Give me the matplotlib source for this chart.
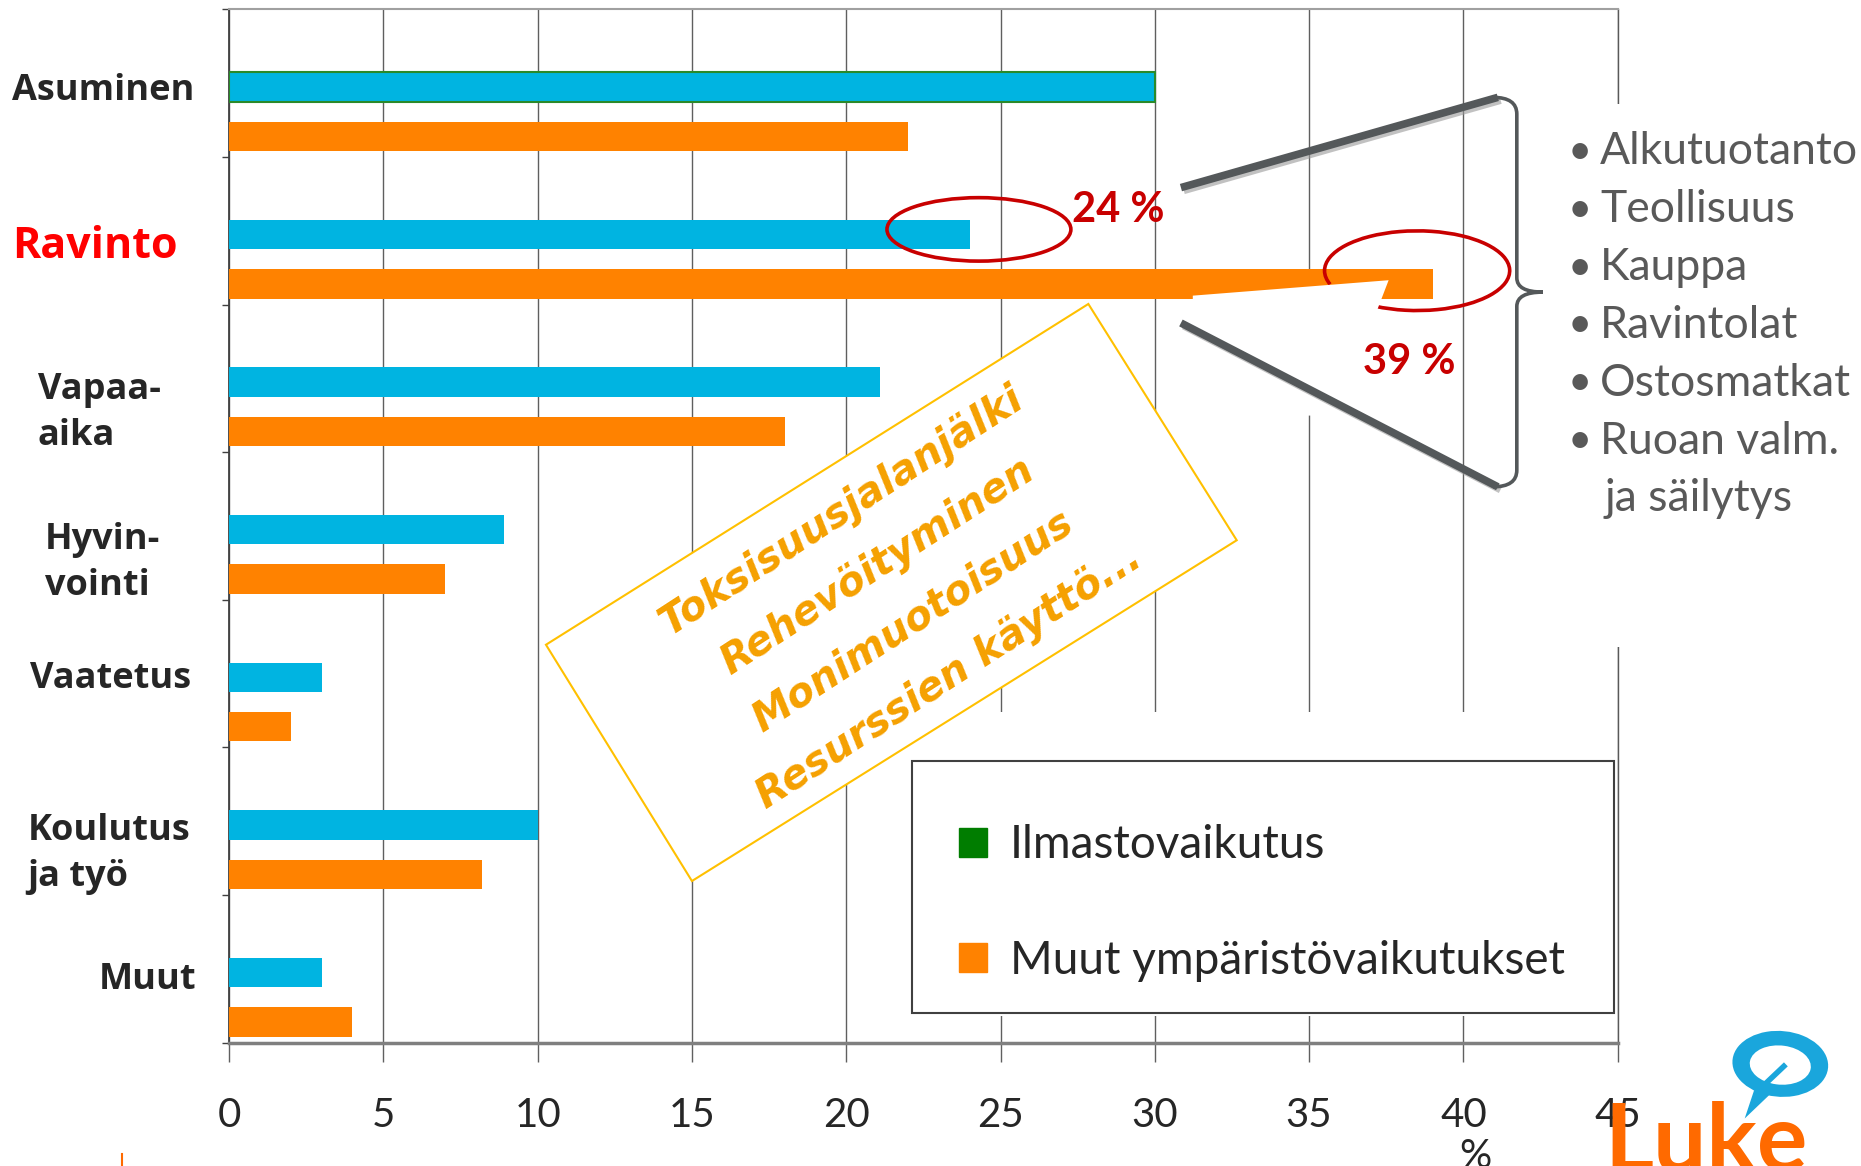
import numpy as np
import matplotlib.pyplot as plt
import matplotlib.patheffects as pe
from matplotlib.patches import Ellipse, Arc, Polygon, Rectangle, PathPatch, Patch
from matplotlib.path import Path
from matplotlib.lines import Line2D

# --- data -------------------------------------------------------------
categories = ['Asuminen', 'Ravinto', 'Vapaa-\naika', 'Hyvin-\nvointi',
              'Vaatetus', 'Koulutus\nja työ', 'Muut']
climate = [30.0, 24.0, 21.1, 8.9, 3.0, 10.0, 3.0]     # Ilmastovaikutus
other_env = [22.0, 39.0, 18.0, 7.0, 2.0, 8.2, 4.0]    # Muut ympäristövaikutukset
x_ticks = [0, 5, 10, 15, 20, 25, 30, 35, 40, 45]
series_labels = ['Ilmastovaikutus', 'Muut ympäristövaikutukset']
impact_words = ['Toksisuusjalanjälki', 'Rehevöityminen', 'Monimuotoisuus', 'Resurssien käyttö...']
food_chain = ['Alkutuotanto', 'Teollisuus', 'Kauppa', 'Ravintolat', 'Ostosmatkat', 'Ruoan valm.']
food_chain_tail = 'ja säilytys'

CYAN = '#00b4e1'
ORANGE = '#ff8200'
GREEN = '#007d00'
RED = '#c80000'
GREY = '#54585a'
TEXT = '#262626'
SLIM = ['Lato', 'DejaVu Sans']
BOLD = ['Open Sans', 'DejaVu Sans']

# layout helpers: positions measured on a 1568x982 preview of the slide
W, H = 1568, 982
def fx(x): return x / W
def fy(y): return 1 - y / H

fig = plt.figure(figsize=(18.61, 11.66), dpi=100)
ax = fig.add_axes([fx(193), fy(878), fx(1363) - fx(193), fy(8) - fy(878)])

rows = np.arange(len(categories))
cbars = ax.barh(rows + 0.525, climate, height=0.2, color=CYAN, zorder=3)
obars = ax.barh(rows + 0.86, other_env, height=0.2, color=ORANGE, zorder=3)
cbars[0].set_edgecolor('#2a8a2a')
cbars[0].set_linewidth(1.5)

ax.set_xlim(0, 45)
ax.set_ylim(len(categories), 0)
ax.set_xticks(x_ticks)
ax.set_yticks(np.arange(len(categories) + 1))
ax.set_yticklabels([])
ax.set_axisbelow(True)
ax.grid(axis='x', color='#5f5f5f', lw=1)
ax.tick_params(axis='x', direction='out', length=14, width=1, color='#606060',
               pad=25, labelsize=29, labelcolor=TEXT)
ax.tick_params(axis='y', direction='out', length=5, width=1, color='#404040')
for lab in ax.get_xticklabels():
    lab.set_fontfamily(SLIM)
ax.spines['left'].set_color('#404040')
ax.spines['left'].set_linewidth(1.3)
ax.spines['bottom'].set_color('#7f7f7f')
ax.spines['bottom'].set_linewidth(2.5)
ax.spines['top'].set_color('#a0a0a0')
ax.spines['top'].set_linewidth(1.5)
ax.spines['right'].set_color('#595959')
ax.spines['right'].set_linewidth(1)

fig.text(fx(1243), fy(958), '%', fontsize=29, color=TEXT, family=SLIM, ha='center', va='top')

# category labels
label_x = [10, 10, 32, 38, 25, 23, 83]
label_y = [77, 208, 348, 474, 572, 719, 825]
for name, lx, ly in zip(categories, label_x, label_y):
    red = name == 'Ravinto'
    fig.text(fx(lx), fy(ly), name, ha='left', va='center', multialignment='left',
             fontsize=31 if red else 26, fontweight='bold', family=BOLD,
             color='#ff0000' if red else TEXT, linespacing=1.38)

# highlight of the food row
ri = categories.index('Ravinto')
ax.add_patch(Ellipse((climate[ri] + 0.3, ri + 0.49), 5.96, 0.43, fill=False,
                     edgecolor=RED, lw=2.6, zorder=4))
def geo_angle(t, w, h):
    t = np.radians(t)
    return np.degrees(np.arctan2(h / w * np.sin(t), np.cos(t)))
aw, ah = 6.0, 0.54
ax.add_patch(Arc((other_env[ri] - 0.5, ri + 0.77), aw, ah,
                 theta1=geo_angle(160, aw, ah), theta2=geo_angle(117, aw, ah),
                 edgecolor=RED, lw=2.6, zorder=4))
# white callout tail cutting the orange bar
tail = [(1005, 249), (1170, 236), (1160, 262), (1125, 350), (1090, 350), (1005, 262)]
ax.add_patch(Polygon([(fx(x), fy(y)) for x, y in tail], closed=True, transform=fig.transFigure,
                     facecolor='white', edgecolor='none', zorder=5, clip_on=False))
fig.text(fx(942), fy(177), f'{climate[ri]:.0f} %', color=RED, fontsize=30, fontweight='bold',
         family=SLIM, ha='center', va='center')
fig.text(fx(1187), fy(305), f'{other_env[ri]:.0f} %', color=RED, fontsize=30, fontweight='bold',
         family=SLIM, ha='center', va='center')

# white areas behind legend and the bullet list
fig.add_artist(Rectangle((fx(768), fy(856)), fx(1361) - fx(768), fy(600) - fy(856),
                         transform=fig.transFigure, facecolor='white', edgecolor='none', zorder=1))
fig.add_artist(Rectangle((fx(1290), fy(545)), fx(1568) - fx(1290), fy(88) - fy(545),
                         transform=fig.transFigure, facecolor='white', edgecolor='none', zorder=1))

# rotated box of other impacts
box = [(460, 543), (917, 256), (1042, 455), (583, 742)]
fig.add_artist(Polygon([(fx(x), fy(y)) for x, y in box], closed=True, transform=fig.transFigure,
                       facecolor='white', edgecolor='#ffc000', lw=1.5, zorder=2))
fig.text(fx(754), fy(500), '\n'.join(impact_words), rotation=33, rotation_mode='anchor',
         ha='center', va='center', multialignment='center', color='#f5a000', fontsize=29,
         fontweight='bold', fontstyle='italic', family='DejaVu Sans', linespacing=1.8, zorder=3)

# callout lines and brace
shadow = [pe.SimpleLineShadow(offset=(2, -2), shadow_color='#999999', alpha=0.6), pe.Normal()]
for (x0, y0), (x1, y1) in [((995, 158), (1262, 82)), ((995, 272), (1262, 410))]:
    fig.add_artist(Line2D([fx(x0), fx(x1)], [fy(y0), fy(y1)], transform=fig.transFigure,
                          color=GREY, lw=5.5, solid_capstyle='butt', path_effects=shadow, zorder=4))
brace = [(1258, 82), (1278, 82), (1278, 96), (1278, 234), (1278, 246), (1300, 246),
         (1278, 246), (1278, 258), (1278, 396), (1278, 410), (1258, 410)]
codes = [Path.MOVETO, Path.CURVE3, Path.CURVE3, Path.LINETO, Path.CURVE3, Path.CURVE3,
         Path.CURVE3, Path.CURVE3, Path.LINETO, Path.CURVE3, Path.CURVE3]
fig.add_artist(PathPatch(Path([(fx(x), fy(y)) for x, y in brace], codes), transform=fig.transFigure,
                         fill=False, edgecolor=GREY, lw=2.6, zorder=4))

for i, item in enumerate(food_chain):
    y = 128 + 48.7 * i
    fig.text(fx(1331), fy(y), '•', color='#595959', fontsize=30, family=SLIM, ha='center', va='center', zorder=5)
    fig.text(fx(1348), fy(y), item, color='#595959', fontsize=32, family=SLIM, ha='left', va='center', zorder=5)
fig.text(fx(1352), fy(420), food_chain_tail, color='#595959', fontsize=32, family=SLIM,
         ha='left', va='center', zorder=5)

# legend (frame drawn separately so the entries can sit where the slide has them)
fig.add_artist(Rectangle((fx(768), fy(853)), fx(1360) - fx(768), fy(641) - fy(853),
                         transform=fig.transFigure, facecolor='white', edgecolor='#404040',
                         lw=1.5, zorder=2))
leg = fig.legend(handles=[Patch(color=GREEN), Patch(color=ORANGE)], labels=series_labels,
                 loc='upper left', bbox_to_anchor=(fx(768), fy(654)),
                 prop={'family': SLIM, 'size': 33}, handlelength=0.6, handleheight=0.6,
                 handletextpad=0.5, borderpad=1.04, labelspacing=1.6, borderaxespad=0,
                 frameon=False)
leg.set_zorder(6)
for t in leg.get_texts():
    t.set_color(TEXT)

# Luke logo
BLUE = '#1aa6dc'
fig.add_artist(Ellipse((fx(1500), fy(896)), fx(80), fy(0) - fy(56), angle=15,
                       transform=fig.transFigure, facecolor=BLUE, edgecolor='none', zorder=5))
fig.add_artist(Polygon([(fx(1478), fy(918)), (fx(1492), fy(921)), (fx(1470), fy(942))],
                       transform=fig.transFigure, facecolor=BLUE, edgecolor='none', zorder=5))
fig.add_artist(Ellipse((fx(1500), fy(897)), fx(50), fy(0) - fy(34), angle=35,
                       transform=fig.transFigure, facecolor='white', edgecolor='none', zorder=6))
fig.add_artist(Line2D([fx(1484), fx(1503)], [fy(916), fy(898)], transform=fig.transFigure,
                      color=BLUE, lw=4, zorder=7))
fig.text(fx(1352), fy(986), 'Luke', color='#ff6a00', fontsize=68, fontweight='bold',
         family=SLIM, ha='left', va='baseline', zorder=5)
fig.add_artist(Line2D([fx(103), fx(103)], [fy(972), fy(982)], transform=fig.transFigure,
                      color='#ff6a00', lw=1.5))

fig.savefig('out.png', dpi=100, facecolor='white')
